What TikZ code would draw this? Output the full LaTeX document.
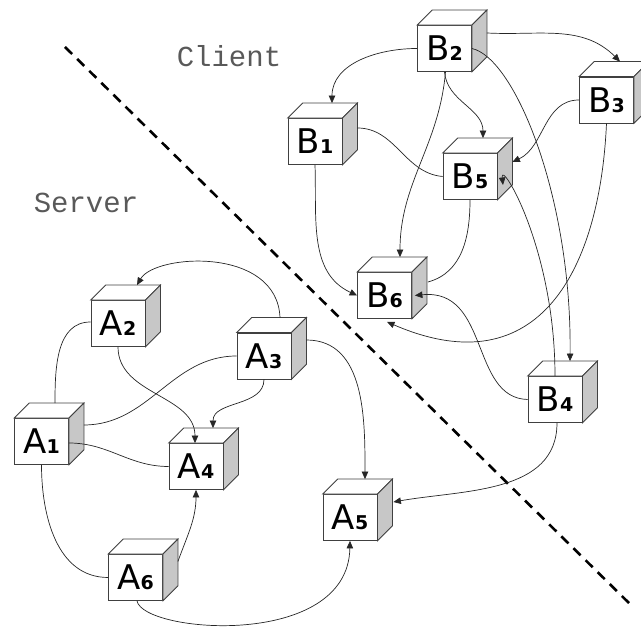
\documentclass[tikz,border=0pt]{standalone}
\usepackage{fontspec}
\usetikzlibrary{calc,arrows.meta}
\newfontfamily\lblfont{DejaVu Sans}
\newfontfamily\monofnt{Liberation Mono}
\tikzset{
  cubeline/.style={draw=black!75, line width=0.8pt},
  cubebox/.style={cubeline, fill=white, minimum width=54pt, minimum height=46pt, inner sep=0pt},
  conn/.style={draw=black!85, line width=0.7pt},
  arr/.style={conn, -{Triangle[length=7.5pt,width=6.5pt]}},
  divider/.style={draw=black, line width=2.6pt, dash pattern=on 10pt off 7pt},
  sidetext/.style={font=\monofnt\fontsize{29}{29}\selectfont, text=black!65, anchor=base, inner sep=0pt}
}
\newcommand{\lbl}[2]{{\fontsize{34}{34}\selectfont #1}{\fontsize{19}{19}\selectfont\bfseries #2}}
\newcommand{\mycube}[3]{%
  \node[cubebox, font=\lblfont] (#1) at (#2) {#3};
  \draw[cubeline, fill=white] (#1.north west) -- ++(15,15) -- ($(#1.north east)+(15,15)$) -- (#1.north east) -- cycle;
  \draw[cubeline, fill=black!22] (#1.north east) -- ++(15,15) -- ($(#1.south east)+(15,15)$) -- (#1.south east) -- cycle;
}
\begin{document}
\begin{tikzpicture}[x=1pt,y=1pt]
\useasboundingbox (0,0) rectangle (641,628);
% divider
\coordinate (d1) at (65,581);
\coordinate (d2) at (633,21);
\draw[divider] (d1) -- (d2);
% labels
\node[sidetext] (client) at (229,561) {Client};
\node[sidetext] (server) at (86,415) {Server};
% boxes
\mycube{A1}{41.5,186.5}{\lbl{A}{1}}
\mycube{A2}{118,304.5}{\lbl{A}{2}}
\mycube{A3}{264,272}{\lbl{A}{3}}
\mycube{A4}{196,161.5}{\lbl{A}{4}}
\mycube{A5}{350,110.5}{\lbl{A}{5}}
\mycube{A6}{135.5,50.5}{\lbl{A}{6}}
\mycube{B1}{315,486.5}{\lbl{B}{1}}
\mycube{B2}{444.5,579.5}{\lbl{B}{2}}
\mycube{B3}{606.5,528}{\lbl{B}{3}}
\mycube{B4}{555,228.5}{\lbl{B}{4}}
\mycube{B5}{470,451.5}{\lbl{B}{5}}
\mycube{B6}{384.5,332.5}{\lbl{B}{6}}
% server connectors
\draw[conn] ($(A1.north)+(13.5,15)$) to[out=90,in=180] ($(A2.west)+(0,1.5)$);
\draw[arr] (A2.south) to[out=-90,in=90] ($(A4.north)+(-1,0)$);
\draw[conn] ($(A1.east)+(15,16.5)$) to[out=0,in=180] (A3.west);
\draw[conn] ($(A1.east)+(0,-1.5)$) to[out=0,in=180] (A4.west);
\draw[arr] (A3.south) to[out=-90,in=90] ($(A4.north)+(17,15)$);
\draw[arr] ($(A3.north)+(16,15)$) .. controls (277,382) and (155,374) .. ($(A2.north)+(19,15)$);
\draw[conn] (A1.south) to[out=-90,in=180] (A6.west);
\draw[arr] ($(A6.east)+(15,16)$) to[out=70,in=-90] (A4.south);
\draw[arr] ($(A6.south)+(1.5,0)$) .. controls (143,-5) and (348,-22) .. (A5.south);
\draw[arr] ($(A3.east)+(15,16)$) to[out=0,in=90] ($(A5.north)+(15,15)$);
\draw[arr] ($(B4.south)+(2,0)$) to[out=-90,in=10] ($(A5.east)+(16,15.5)$);
% client connectors
\draw[arr] (B2.west) to[out=180,in=90] ($(B1.north)+(17,15)$);
\draw[arr] ($(B2.east)+(15,15.5)$) to[out=-3,in=135] ($(B3.north)+(13.5,15)$);
\draw[arr] (B2.south) to[out=-85,in=90] ($(B5.north)+(13,15)$);
\draw[arr] ($(B2.south)+(1,0)$) to[out=-95,in=90] ($(B6.north)+(15.5,15)$);
\draw[arr] (B2.east) .. controls (515,570) and (572,430) .. ($(B4.north)+(15,15)$);
\draw[arr] (B3.west) to[out=180,in=25] ($(B5.east)+(15,14.5)$);
\draw[arr] (B3.south) .. controls (600,360) and (540,240) .. ($(B6.south)+(2.5,-3)$);
\draw[conn] ($(B1.east)+(15,13.5)$) to[out=0,in=175] (B5.west);
\draw[arr] (B1.south) to[out=-88,in=155] (B6.west);
\draw[conn] (B5.south) to[out=-90,in=15] ($(B6.east)+(16,13.5)$);
\draw[arr] (B4.west) .. controls (470,230) and (490,340) .. ($(B6.east)+(3,0)$);
\draw[arr] (B4.north) .. controls (555,380) and (500,470) .. (503,443);
\end{tikzpicture}
\end{document}
